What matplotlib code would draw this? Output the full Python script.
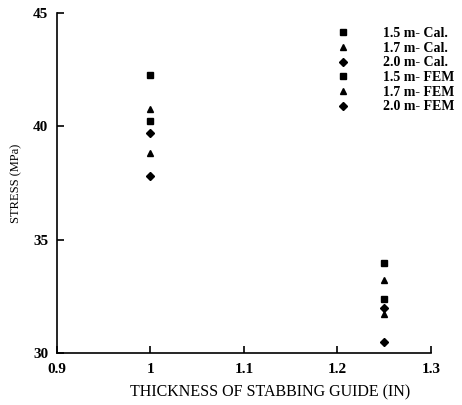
import matplotlib
matplotlib.use("Agg")
import matplotlib.pyplot as plt

thickness = [1.0, 1.25]
cal_15 = [42.26, 33.98]
cal_17 = [40.75, 33.23]
cal_20 = [39.69, 31.99]
fem_15 = [40.22, 32.39]
fem_17 = [38.81, 31.73]
fem_20 = [37.79, 30.49]
labels = ["1.5 m- Cal.", "1.7 m- Cal.", "2.0 m- Cal.", "1.5 m- FEM", "1.7 m- FEM", "2.0 m- FEM"]
xticks = [0.9, 1.0, 1.1, 1.2, 1.3]
xticklabels = ["0.9", "1", "1.1", "1.2", "1.3"]
yticks = [30, 35, 40, 45]

plt.rcParams['font.family'] = ['Liberation Serif', 'DejaVu Serif']

fig = plt.figure(figsize=(4.62, 4.05), dpi=100)
ax = fig.add_axes([0.123, 0.128, 0.81, 0.84])

series = [cal_15, cal_17, cal_20, fem_15, fem_17, fem_20]
markers = ['s', '^', 'D', 's', '^', 'D']
sizes = [4.5, 4.5, 4.0, 4.5, 4.5, 4.0]
for vals, m, ms, lab in zip(series, markers, sizes, labels):
    ax.plot(thickness, vals, linestyle='none', marker=m, markersize=ms,
            color='black', label=lab)

ax.set_xlim(0.9, 1.3)
ax.set_ylim(30, 45)
ax.set_xticks(xticks)
ax.set_xticklabels(xticklabels)
ax.set_yticks(yticks)
for s in ['top', 'right']:
    ax.spines[s].set_visible(False)
for s in ['left', 'bottom']:
    ax.spines[s].set_linewidth(1.2)
ax.tick_params(direction='in', length=5, width=1.2, labelsize=11)
ax.tick_params(axis='x', pad=7)
ax.tick_params(axis='y', pad=6)
for t in ax.get_xticklabels() + ax.get_yticklabels():
    t.set_fontweight('bold')

ax.set_xlabel("THICKNESS OF STABBING GUIDE (IN)", fontsize=11.5)
ax.xaxis.set_label_coords(270 / 462, 21 / 405, transform=fig.transFigure)
ax.set_ylabel("STRESS (MPa)", fontsize=9, labelpad=8)

leg = ax.legend(loc='upper right', bbox_to_anchor=(1.096, 0.995), frameon=False,
                handlelength=2.0, handletextpad=1.9,
                labelspacing=0.12, prop={'weight': 'bold', 'size': 10})

fig.savefig("out.png", dpi=100)
